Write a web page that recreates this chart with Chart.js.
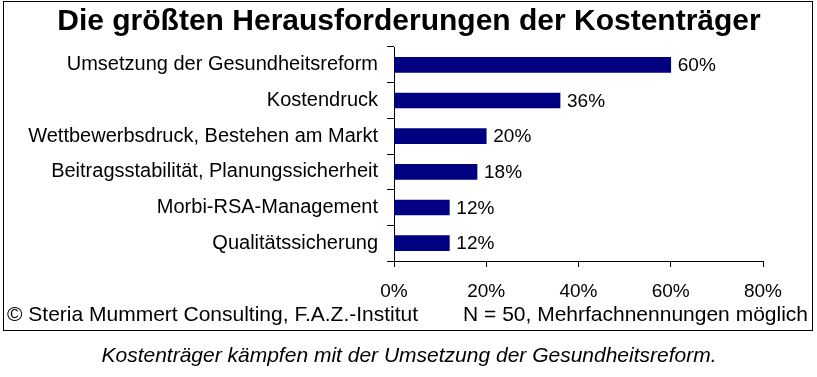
<!DOCTYPE html>
<html>
<head>
<meta charset="utf-8">
<script src="https://cdn.jsdelivr.net/npm/chart.js@4"></script>
<style>
  body { margin: 0; background: #fff; }
</style>
</head>
<body>
<canvas id="chart" width="817" height="377"></canvas>
<script>
var categories = ['Umsetzung der Gesundheitsreform', 'Kostendruck', 'Wettbewerbsdruck, Bestehen am Markt',
    'Beitragsstabilität, Planungssicherheit', 'Morbi-RSA-Management', 'Qualitätssicherung'];
var values = [60, 36, 20, 18, 12, 12];
var xTicks = [0, 20, 40, 60, 80];
var titleText = 'Die größten Herausforderungen der Kostenträger';
var sourceText = '© Steria Mummert Consulting, F.A.Z.-Institut';
var noteText = 'N = 50, Mehrfachnennungen möglich';
var captionText = 'Kostenträger kämpfen mit der Umsetzung der Gesundheitsreform.';

var fontName = '"Liberation Sans", Arial, sans-serif';

// white page, title, frame, footer texts and caption
var extras = {
    id: 'extras',
    beforeDraw: function(chart) {
        var c = chart.ctx;
        c.save();
        c.fillStyle = '#fff';
        c.fillRect(0, 0, chart.width, chart.height);
        c.restore();
    },
    afterDatasetsDraw: function(chart) {
        var c = chart.ctx;
        c.save();
        c.font = '19px ' + fontName;
        c.fillStyle = '#000';
        c.textBaseline = 'middle';
        c.textAlign = 'left';
        chart.getDatasetMeta(0).data.forEach(function(bar, i) {
            c.fillText(values[i] + '%', bar.x + 7, bar.y + 1);
        });
        c.restore();
    },
    afterDraw: function(chart) {
        var c = chart.ctx;
        c.save();
        c.strokeStyle = '#000';
        c.lineWidth = 1;
        c.strokeRect(3.5, 1.5, 809, 329);
        c.fillStyle = '#000';
        c.textBaseline = 'middle';
        c.textAlign = 'center';
        c.font = 'bold 30px ' + fontName;
        c.fillText(titleText, 409, 22);
        c.font = '21px ' + fontName;
        c.textAlign = 'left';
        c.fillText(sourceText, 7, 315);
        c.textAlign = 'right';
        c.fillText(noteText, 808, 315);
        c.textAlign = 'center';
        c.font = 'italic 21px ' + fontName;
        c.fillText(captionText, 409, 356);
        c.restore();
    }
};

new Chart(document.getElementById('chart'), {
    type: 'bar',
    data: {
        labels: categories,
        datasets: [{
            data: values,
            backgroundColor: '#000080',
            barThickness: 15
        }]
    },
    options: {
        indexAxis: 'y',
        responsive: false,
        animation: false,
        layout: { padding: { left: 0, right: 54, top: 47, bottom: 71 } },
        plugins: {
            legend: { display: false },
            tooltip: { enabled: false },
            title: { display: false }
        },
        scales: {
            x: {
                min: 0,
                max: 80,
                afterBuildTicks: function(axis) {
                    axis.ticks = xTicks.map(function(v) { return { value: v }; });
                },
                afterFit: function(axis) { axis.height = 45; },
                border: { color: '#000', width: 1 },
                grid: { drawOnChartArea: false, tickLength: 6, color: '#000' },
                ticks: {
                    color: '#000',
                    padding: 13,
                    maxRotation: 0,
                    font: { family: fontName, size: 19 },
                    callback: function(v) { return v + '%'; }
                }
            },
            y: {
                afterFit: function(axis) { axis.width = 394; },
                border: { color: '#000', width: 1 },
                grid: { drawOnChartArea: false, tickLength: 7, color: '#000', offset: true },
                ticks: {
                    color: '#000',
                    padding: 9,
                    font: { family: fontName, size: 20 }
                }
            }
        }
    },
    plugins: [extras]
});
</script>
</body>
</html>
